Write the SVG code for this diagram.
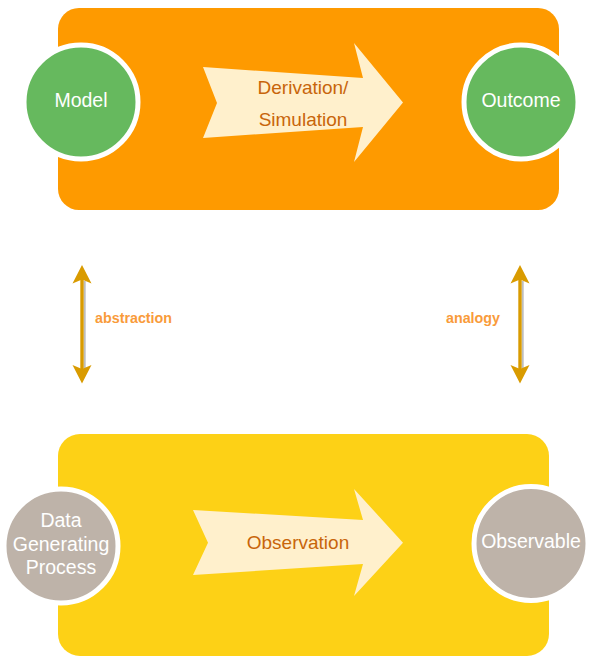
<svg xmlns="http://www.w3.org/2000/svg" width="591" height="664" viewBox="0 0 591 664">
<style>
.node{stroke:#fff;stroke-width:5}
.nl{font-family:"Liberation Sans",Arial,sans-serif;font-size:19.5px;fill:#fff;text-anchor:middle}
.al{font-family:"Liberation Sans",Arial,sans-serif;font-size:19px;fill:#C8650A;text-anchor:middle}
.el{font-family:"Liberation Sans",Arial,sans-serif;font-size:14.3px;font-weight:bold;fill:#F99B3A}
.big{fill:#FFF0CC}
.shaft{stroke:#D99B00;stroke-width:3.4}
.shadow{stroke:#BDBDBD;stroke-width:2}
.head{fill:#D99B00}
</style>
<rect width="591" height="664" fill="#fff"/>
<g id="theory">
<rect x="58" y="8" width="501" height="202" rx="21" fill="#FE9A00"/>
</g>
<g id="reality">
<rect x="58" y="434" width="491" height="222" rx="22" fill="#FDD116"/>
</g>
<g id="derivation">
<polygon class="big" points="203,67 363,78 354,43 403,102.5 354,162 363,127 203,138 217,103"/>
<text class="al" x="303" y="93.5">Derivation/</text>
<text class="al" x="303" y="126">Simulation</text>
</g>
<g id="observation">
<polygon class="big" points="193,510 363,520 354,489 403,542.7 354,596 363,564 193,575 208,542.7"/>
<text class="al" x="298" y="549">Observation</text>
</g>
<g id="model">
<circle class="node" cx="81" cy="102" r="57" fill="#66B95E"/>
<text class="nl" x="81" y="107">Model</text>
</g>
<g id="outcome">
<circle class="node" cx="521" cy="102" r="57" fill="#66B95E"/>
<text class="nl" x="521" y="107">Outcome</text>
</g>
<g id="dgp">
<circle class="node" cx="61" cy="546" r="57" fill="#BEB3A9"/>
<text class="nl" x="61" y="527">Data</text>
<text class="nl" x="61" y="550.5">Generating</text>
<text class="nl" x="61" y="574">Process</text>
</g>
<g id="observable">
<circle class="node" cx="531" cy="543.5" r="57" fill="#BEB3A9"/>
<text class="nl" x="531" y="548">Observable</text>
</g>
<g id="connectors">
<g id="abstraction">
<line class="shadow" x1="84.7" y1="281" x2="84.7" y2="368"/>
<line class="shaft" x1="82" y1="278" x2="82" y2="371"/>
<polygon class="head" points="82,265 91.5,283.5 82,279.5 72.5,283.5"/>
<polygon class="head" points="82,383.5 91.5,365 82,369 72.5,365"/>
<text class="el" x="95" y="322.7">abstraction</text>
</g>
<g id="analogy">
<line class="shadow" x1="522.7" y1="281" x2="522.7" y2="368"/>
<line class="shaft" x1="520" y1="278" x2="520" y2="371"/>
<polygon class="head" points="520,265 529.5,283.5 520,279.5 510.5,283.5"/>
<polygon class="head" points="520,383.5 529.5,365 520,369 510.5,365"/>
<text class="el" x="500" y="322.7" text-anchor="end">analogy</text>
</g>
</g>
</svg>
